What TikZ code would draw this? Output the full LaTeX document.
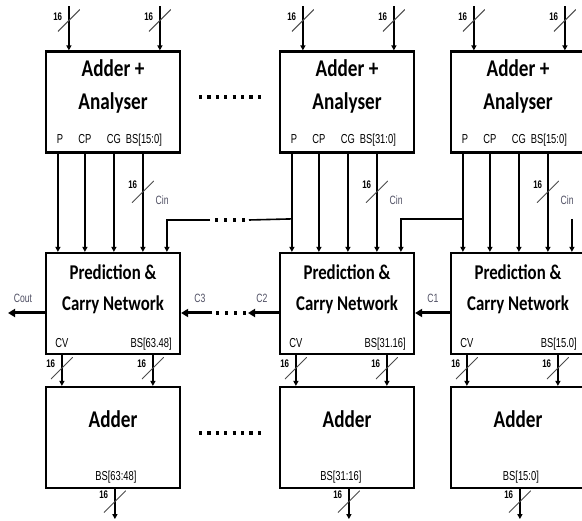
\documentclass[tikz,border=0pt]{standalone}
\usepackage{fontspec}
\setmainfont{Carlito}
\newfontfamily\titlefont[FakeStretch=0.8]{Carlito}
\newfontfamily\pinfont[FakeStretch=0.72]{Liberation Sans}
\usetikzlibrary{arrows.meta}
\definecolor{sigcol}{RGB}{80,80,100}
\tikzset{
  blk/.style={draw, line width=2.2pt, minimum width=134pt, minimum height=101pt, inner sep=0pt},
  ttl/.style={font=\titlefont\bfseries\fontsize{24}{24}\selectfont, inner sep=0pt, anchor=base},
  ttlsm/.style={font=\titlefont\bfseries\fontsize{21}{21}\selectfont, inner sep=0pt, anchor=base},
  pin/.style={font=\pinfont\fontsize{13}{13}\selectfont, inner sep=0pt, anchor=base},
  wire/.style={line width=1.6pt, -{Triangle[length=5pt,width=5pt]}},
  plainwire/.style={line width=1.6pt},
  carry/.style={line width=3pt, -{Triangle[length=7pt,width=8pt]}},
  slash/.style={minimum width=22pt, minimum height=22pt, inner sep=0pt,
    path picture={\draw[-, line width=0.9pt, black!70]
      (path picture bounding box.south west) -- (path picture bounding box.north east);}},
  w16/.style={font=\pinfont\bfseries\fontsize{11}{11}\selectfont, inner sep=0pt, anchor=east},
  sig/.style={font=\pinfont\fontsize{12}{12}\selectfont, text=sigcol, inner sep=0pt, anchor=base},
  dotrow/.style={line width=3.2pt, dash pattern=on 3.2pt off 5.2pt},
  dotrowsm/.style={line width=3.4pt, dash pattern=on 3.4pt off 5.6pt},
}
\begin{document}
\begin{tikzpicture}[x=1pt, y=-1pt]
  \clip (0,0) rectangle (582,521);
  \fill[white] (0,0) rectangle (582,521);

  % three 16-bit slices
  \foreach \k/\x/\abs/\pbs/\dbs/\dx in {1/113/{BS[15:0]}/{BS[63.48]}/{BS[63:48]}/71,
                                        2/347/{BS[31:0]}/{BS[31.16]}/{BS[31:16]}/62,
                                        3/518/{BS[15:0]}/{BS[15.0]}/{BS[15:0]}/71} {
    % blocks
    \node[blk] (A\k) at (\x,102) {};
    \node[blk] (P\k) at (\x,303.5) {};
    \node[blk] (D\k) at (\x,437.5) {};

    % block titles
    \node[ttl] (A\k-t1) at ([yshift=-26pt]A\k.north) {Adder +};
    \node[ttl] (A\k-t2) at ([yshift=-59pt]A\k.north) {Analyser};
    \node[ttlsm] (P\k-t1) at ([yshift=-28pt]P\k.north) {Prediction \&};
    \node[ttlsm] (P\k-t2) at ([yshift=-59pt]P\k.north) {Carry Network};
    \node[ttl] (D\k-t1) at ([yshift=-42pt]D\k.north) {Adder};

    % port labels
    \node[pin] (A\k-p)  at ([xshift=15pt,yshift=10pt]A\k.south west) {P};
    \node[pin] (A\k-cp) at ([xshift=40pt,yshift=10pt]A\k.south west) {CP};
    \node[pin] (A\k-cg) at ([xshift=69pt,yshift=10pt]A\k.south west) {CG};
    \node[pin] (A\k-bs) at ([xshift=99pt,yshift=10pt]A\k.south west) {\abs};
    \node[pin] (P\k-cv) at ([xshift=17pt,yshift=8pt]P\k.south west) {CV};
    \node[pin, anchor=base east] (P\k-bs) at ([xshift=127pt,yshift=8pt]P\k.south west) {\pbs};
    \node[pin] (D\k-bs) at ([xshift=\dx pt,yshift=9pt]D\k.south west) {\dbs};

    % 16-bit operand inputs
    \coordinate (A\k-ia) at ([xshift=24pt,yshift=44pt]A\k.north west);
    \coordinate (A\k-ib) at ([xshift=115pt,yshift=44pt]A\k.north west);
    \draw[wire] (A\k-ia) -- node[pos=.32, slash] {} node[pos=.3, w16, xshift=-6pt, yshift=3pt] {16}
      ([xshift=24pt]A\k.north west);
    \draw[wire] (A\k-ib) -- node[pos=.32, slash] {} node[pos=.3, w16, xshift=-6pt, yshift=3pt] {16}
      ([xshift=115pt]A\k.north west);

    % P, CP, CG, BS into the prediction network
    \draw[wire] ([xshift=13pt]A\k.south west) -- ([xshift=13pt]P\k.north west);
    \draw[wire] ([xshift=40pt]A\k.south west) -- ([xshift=40pt]P\k.north west);
    \draw[wire] ([xshift=69pt]A\k.south west) -- ([xshift=69pt]P\k.north west);
    \draw[wire] ([xshift=98pt]A\k.south west) --
      node[pos=.39, slash] {}
      node[pos=.36, w16, xshift=-5pt, yshift=4pt] {16}
      node[pos=.45, sig, anchor=west, xshift=12pt, yshift=-2pt] {Cin}
      ([xshift=98pt]P\k.north west);

    % CV and BS into the final adder
    \draw[wire] ([xshift=17pt]P\k.south west) -- node[pos=.42, slash] {}
      node[pos=.33, w16, xshift=-6pt, yshift=2pt] {16} ([xshift=17pt]D\k.north west);
    \draw[wire] ([xshift=108pt]P\k.south west) -- node[pos=.42, slash] {}
      node[pos=.33, w16, xshift=-6pt, yshift=2pt] {16} ([xshift=108pt]D\k.north west);

    % sum output
    \coordinate (D\k-o) at ([xshift=70pt,yshift=-30pt]D\k.south west);
    \draw[wire] ([xshift=70pt]D\k.south west) -- node[pos=.42, slash] {}
      node[pos=.3, w16, xshift=-6pt, yshift=3pt] {16} (D\k-o);
  }

  % carry-in feeds taken from the next slice's P line
  \coordinate (j2) at ([xshift=13pt,yshift=33pt]P2.north west);
  \coordinate (j3) at ([xshift=13pt,yshift=33pt]P3.north west);
  \coordinate (g1) at (210,220);
  \coordinate (g2) at (249,220);
  \draw[wire] (g1) -| ([xshift=122pt]P1.north west);
  \draw[plainwire] (g2) -- (j2);
  \draw[dotrowsm] (215,220) -- (245,220);
  \draw[wire] (j3) -| ([xshift=122pt]P2.north west);
  \coordinate (cin3) at ([xshift=122pt,yshift=33pt]P3.north west);
  \draw[wire] (cin3) -- ([xshift=122pt]P3.north west);

  % carry chain
  \coordinate (cout) at (8,313);
  \coordinate (c3s) at (212,313);
  \coordinate (c2e) at (248,313);
  \draw[carry] ([yshift=-9.5pt]P1.west) -- (cout);
  \draw[carry] (c3s) -- ([yshift=-9.5pt]P1.east);
  \draw[dotrowsm] (216,313) -- (246,313);
  \draw[carry] ([yshift=-9.5pt]P2.west) -- (c2e);
  \draw[carry] ([yshift=-9.5pt]P3.west) -- ([yshift=-9.5pt]P2.east);
  \node[sig] (lcout) at (23,303) {Cout};
  \node[sig] (lc3) at (200,303) {C3};
  \node[sig] (lc2) at (262,303) {C2};
  \node[sig] (lc1) at (433,303) {C1};

  % omitted slices
  \draw[dotrow] (199,97) -- (261,97);
  \draw[dotrow] (199,433) -- (261,433);
\end{tikzpicture}
\end{document}
